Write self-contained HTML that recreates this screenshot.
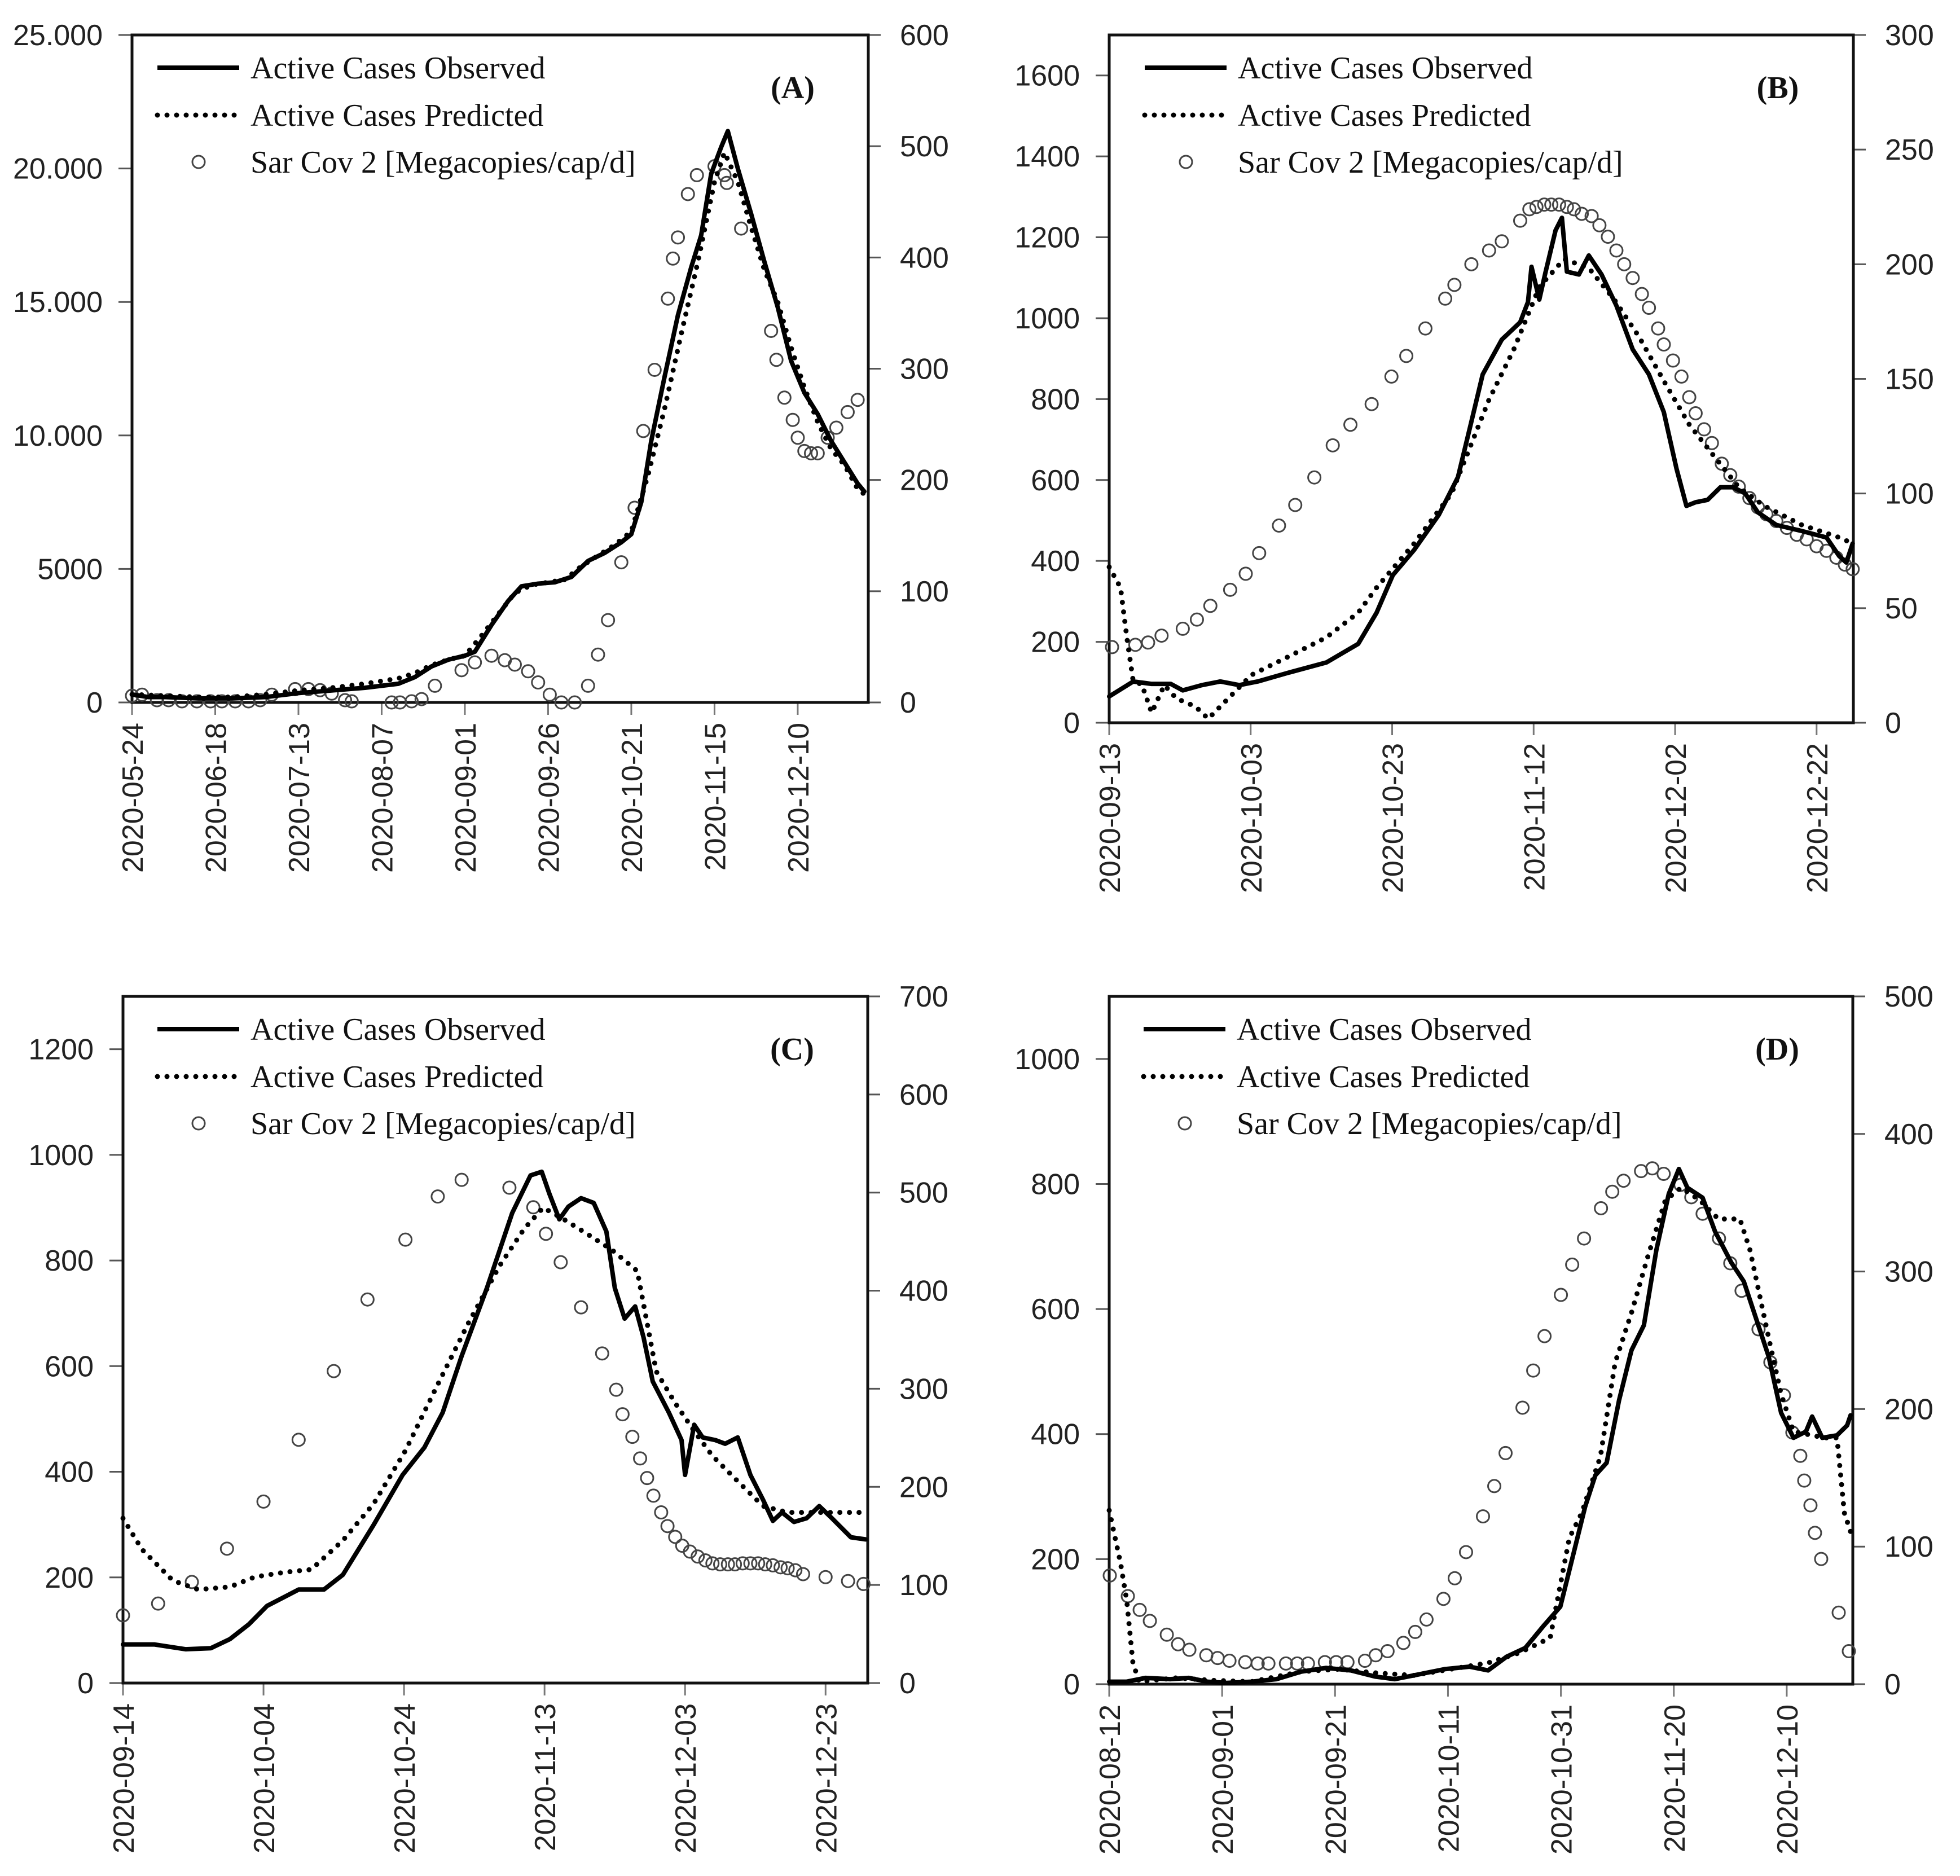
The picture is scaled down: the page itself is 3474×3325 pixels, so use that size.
<!DOCTYPE html>
<html><head><meta charset="utf-8"><style>
html,body{margin:0;padding:0;background:#fff;}
svg{display:block;}
.tick{font-family:"Liberation Sans",sans-serif;font-size:52px;fill:#222;}
.leg{font-family:"Liberation Serif",serif;font-size:56px;fill:#111;}
.lab{font-family:"Liberation Serif",serif;font-size:56px;font-weight:bold;fill:#111;}
</style></head><body>
<svg id="chart" xmlns="http://www.w3.org/2000/svg" width="3474" height="3325" viewBox="0 0 3474 3325"></svg>
<script>
// ---------- Panel A data ----------
const aObsDays=[0,5,10,20,30,40,50,60,70,80,85,90,95,100,103,108,113,117,122,127,132,137,142,147,150,153,156,160,164,168,171,174,177,179,182,186,190,194,198,202,206,210,214,218,220];
const aObsVals=[300,200,200,150,150,200,350,450,550,700,950,1350,1600,1750,1900,2900,3800,4350,4450,4500,4700,5300,5600,6000,6300,7500,9800,12200,14500,16300,17500,19800,20800,21400,20000,18300,16500,14800,12800,11600,10800,9800,9000,8200,7900];
const aPredDays=[0,10,20,30,40,50,60,70,80,85,90,95,100,105,110,115,120,125,130,135,140,145,150,155,160,165,170,175,178,182,186,190,194,198,202,206,210,214,218,220];
const aPredVals=[300,250,200,200,300,450,550,700,900,1100,1400,1600,1750,2500,3300,4100,4400,4500,4600,5100,5500,5900,6400,8500,11000,13800,16500,19500,20600,19500,17800,16200,15000,13300,11800,10500,9500,8900,8000,7800];
const aSarsDays=[0,3,7.5,11,15,19.5,23.6,27,31,35,38.5,42,49,53,56.5,60,64,66,78,80.5,84,87,91,99,103,108,112,115,119,122,125.5,129,133,137,140,143,147,151,153.6,157,161,162.5,164,167,169.7,175,178,178.7,183,192,193.6,196,198.5,200,202,204,206,209,211.6,215,218];
const aSarsVals=[6,7,2,2,1,1,1,1,1,1,2,7,12,12,11,8,2,1,0,0,1,3,15,29,36,42,38,34,28,18,7,0,0,15,43,74,126,175,244,299,363,399,418,457,474,482,474,467,426,334,308,274,254,238,226,224,224,238,247,261,272];
const aLeftTicks=['0','5000','10.000','15.000','20.000','25.000'];
const aRightTicks=['0','100','200','300','400','500','600'];
const aDateLabels=['2020-05-24','2020-06-18','2020-07-13','2020-08-07','2020-09-01','2020-09-26','2020-10-21','2020-11-15','2020-12-10'];

// ---------- Panel B data ----------
const bObsDays=[0,3.4,6,8.7,10.4,13.1,15.7,18.4,21,25.4,30.7,35.2,37.8,40.1,43.1,46.6,49.3,51.1,52.8,55.5,58.1,59.2,59.7,60.8,61.7,63.1,64,64.7,66.4,67.8,69.6,71.7,74,76.3,78.4,80.2,81.6,82.9,84.6,86.4,88.2,89.9,91.7,94.3,97.9,101.4,103.2,104.2,105.1];
const bObsVals=[65,102,96,96,80,93,102,93,102,124,149,195,272,365,427,514,607,737,861,947,990,1040,1127,1046,1115,1217,1248,1115,1108,1155,1108,1031,923,861,768,628,536,545,551,582,582,567,520,489,474,458,412,396,443];
const bPredDays=[0,1.6,2.5,3.4,4.6,6,7.8,9.5,12.2,14,16.6,20.1,25.4,30.7,35.2,37.8,43.1,48.4,53.7,57.2,60.8,64.3,67.8,71.4,74.9,78.4,82,85.5,89,92.6,97.9,103.2,105.1];
const bPredVals=[385,334,210,102,95,25,93,60,40,10,56,118,164,211,272,334,443,567,799,923,1077,1146,1124,1046,954,845,737,659,582,536,489,458,443];
const bSarsDays=[0.4,3.7,5.5,7.4,10.4,12.4,14.3,17.1,19.3,21.2,24,26.3,29,31.6,34.1,37.1,39.9,42,44.7,47.5,48.8,51.2,53.7,55.5,58.1,59.4,60.4,61.5,62.5,63.6,64.7,65.7,66.8,68.2,69.3,70.5,71.7,72.8,74,75.3,76.3,77.6,78.4,79.7,80.9,82,82.9,84.1,85.2,86.6,87.8,89,90.5,91.7,92.9,94.3,95.8,97.2,98.6,100,101.4,102.8,104,105.1];
const bSarsVals=[33,34,35,38,41,45,51,58,65,74,86,95,107,121,130,139,151,160,172,185,191,200,206,210,219,224,225,226,226,226,225,224,222,221,217,212,206,200,194,187,181,172,165,158,151,142,135,128,122,113,108,103,98,94,91,88,85,82,80,77,75,72,69,67];
const bLeftTicks=['0','200','400','600','800','1000','1200','1400','1600'];
const bRightTicks=['0','50','100','150','200','250','300'];
const bDateLabels=['2020-09-13','2020-10-03','2020-10-23','2020-11-12','2020-12-02','2020-12-22'];

// ---------- Panel C data ----------
const cObsDays=[0,4.5,8.9,12.5,15.2,17.9,20.5,25,28.6,31.3,35.7,39.8,42.9,45.5,48.2,51.8,55.4,58,59.6,60.7,62.1,63.4,65.2,67,68.8,70,71.4,72.9,74.1,75.4,77.7,79.5,80,81.3,82.5,84.3,85.7,87.5,89.3,91.1,92.5,93.8,95.5,97.3,99.1,100.9,103.6,105.7];
const cObsVals=[73,73,64,66,83,111,146,177,177,205,300,394,446,512,619,748,890,961,968,926,878,902,918,909,855,748,690,713,654,571,512,460,394,489,465,460,453,465,394,347,307,323,305,312,335,312,276,272];
const cPredDays=[0,2.7,7.1,10.7,15.2,18.8,23.2,26.8,31.3,35.7,40.2,44.6,49.1,53.6,57.1,59.8,62.5,66.1,69.6,73.2,75.9,78.6,81.3,83.9,87.5,91.1,94.6,100,105.7];
const cPredVals=[312,253,194,177,182,201,210,215,270,340,440,560,680,790,860,900,880,850,820,780,590,530,477,430,382,335,323,323,323];
const cSarsDays=[0,5,9.8,14.8,20,25,30,34.8,40.2,44.8,48.2,55,58.4,60.2,62.3,65.2,68.2,70.2,71.1,72.5,73.6,74.6,75.5,76.6,77.5,78.6,79.6,80.7,81.8,82.9,83.9,85,86.1,87.1,88.2,89.3,90.4,91.4,92.5,93.6,94.6,95.7,96.8,100,103.2,105.4];
const cSarsVals=[69,81,103,137,185,248,318,391,452,496,513,505,485,458,429,383,336,299,274,251,229,209,191,174,160,149,140,134,129,125,122,121,121,121,122,122,122,121,120,118,117,115,111,108,104,101];
const cLeftTicks=['0','200','400','600','800','1000','1200'];
const cRightTicks=['0','100','200','300','400','500','600','700'];
const cDateLabels=['2020-09-14','2020-10-04','2020-10-24','2020-11-13','2020-12-03','2020-12-23'];

// ---------- Panel D data ----------
const dObsDays=[0,3.1,6.4,10.8,14.1,17.4,20.8,25.2,29.6,34,38.4,42.8,47.2,50.6,55,59.4,63.8,67.1,70.4,73.7,77,79.9,82.1,84.3,86.1,88.1,90.3,92.5,94.7,96.9,99.1,100.9,102.4,105.1,107.3,110.2,112.4,114.6,116.8,119,121.2,123.4,124.5,126.3,128.9,130.7,131.3];
const dObsVals=[4,4,10,8,10,4,2,4,8,20,26,22,12,8,16,24,28,22,44,58,94,124,204,284,334,354,454,534,574,694,784,824,794,778,724,674,644,584,524,434,394,404,428,394,398,414,430];
const dPredDays=[0,2,3.1,4.2,5.3,11.9,18.5,25.2,34,40.6,47.2,53.9,60.5,67.1,72.6,78.1,81.5,83.7,87,89.6,92.5,95.4,98.5,101.3,104.6,107.9,111.7,113.5,116.8,119,121.2,126.7,128.9,130.2,131.3];
const dPredVals=[278,194,134,34,4,10,6,4,20,24,18,14,24,34,50,74,234,274,364,514,594,684,774,794,774,744,744,694,554,464,404,394,394,274,244];
const dSarsDays=[0.1,3.3,5.4,7.2,10.2,12.2,14.2,17.2,19.2,21.3,24.1,26.3,28.2,31.3,33.3,35.2,38.2,40.2,42.2,45.3,47.2,49.3,52.1,54.2,56.2,59.2,61.2,63.2,66.2,68.2,70.2,73.2,75.1,77.1,80,82,84.1,87.1,89.1,91.1,94.2,96.2,98.2,101.2,103.1,105.1,108,110,112,115,117.1,119.5,121,122.4,123.1,124.2,125,126.1,129.2,131];
const dSarsVals=[79,64,54,46,36,29,25,21,19,17,16,15,15,15,15,15,16,16,16,17,21,24,30,38,47,62,77,96,122,144,168,201,228,253,283,305,324,346,358,366,373,375,371,363,354,342,324,306,286,258,234,210,183,166,148,130,110,91,52,24];
const dLeftTicks=['0','200','400','600','800','1000'];
const dRightTicks=['0','100','200','300','400','500'];
const dDateLabels=['2020-08-12','2020-09-01','2020-09-21','2020-10-11','2020-10-31','2020-11-20','2020-12-10'];

const NS='http://www.w3.org/2000/svg';
const svg=document.getElementById('chart');
function mk(tag,attrs,parent){const e=document.createElementNS(NS,tag);for(const k in attrs)e.setAttribute(k,attrs[k]);(parent||svg).appendChild(e);return e;}

const panels=[
 {key:'a',label:'(A)',L:234,R:1539,T:62,B:1245,xMax:221.2,yMax:25000,yStep:5000,rMax:600,rStep:100,xStep:25,legX:210,
  obsD:aObsDays,obsV:aObsVals,predD:aPredDays,predV:aPredVals,sD:aSarsDays,sV:aSarsVals,lt:aLeftTicks,rt:aRightTicks,dl:aDateLabels},
 {key:'b',label:'(B)',L:1966,R:3285,T:62,B:1281,xMax:105.2,yMax:1700,yStep:200,rMax:300,rStep:50,xStep:20,legX:228,
  obsD:bObsDays,obsV:bObsVals,predD:bPredDays,predV:bPredVals,sD:bSarsDays,sV:bSarsVals,lt:bLeftTicks,rt:bRightTicks,dl:bDateLabels},
 {key:'c',label:'(C)',L:218,R:1538,T:1766,B:2983,xMax:106,yMax:1300,yStep:200,rMax:700,rStep:100,xStep:20,legX:226,
  obsD:cObsDays,obsV:cObsVals,predD:cPredDays,predV:cPredVals,sD:cSarsDays,sV:cSarsVals,lt:cLeftTicks,rt:cRightTicks,dl:cDateLabels},
 {key:'d',label:'(D)',L:1966,R:3284,T:1766,B:2985,xMax:131.7,yMax:1100,yStep:200,rMax:500,rStep:100,xStep:20,legX:226,
  obsD:dObsDays,obsV:dObsVals,predD:dPredDays,predV:dPredVals,sD:dSarsDays,sV:dSarsVals,lt:dLeftTicks,rt:dRightTicks,dl:dDateLabels}
];

panels.forEach(p=>{
  const g=mk('g',{});
  
  
  const xs=d=>p.L+(d/p.xMax)*(p.R-p.L);
  const ys=v=>p.B-(v/p.yMax)*(p.B-p.T);
  const yr=v=>p.B-(v/p.rMax)*(p.B-p.T);
  p.lt.forEach((t,i)=>{
    const y=ys(i*p.yStep);
    const tk=mk('line',{x1:p.L-24,x2:p.L,y1:y,y2:y,stroke:'#555','stroke-width':3},g);
    
    
    const tx=mk('text',{x:p.L-52,y:y+18,'text-anchor':'end',class:'tick'},g);
    tx.textContent=t;
    
    
  });
  p.rt.forEach((t,i)=>{
    const y=yr(i*p.rStep);
    const tk=mk('line',{x1:p.R,x2:p.R+22,y1:y,y2:y,stroke:'#555','stroke-width':3},g);
    
    
    const tx=mk('text',{x:p.R+56,y:y+18,'text-anchor':'start',class:'tick'},g);
    tx.textContent=t;
    
    
  });
  p.dl.forEach((t,i)=>{
    const x=xs(i*p.xStep);
    const tk=mk('line',{x1:x,x2:x,y1:p.B,y2:p.B+22,stroke:'#777','stroke-width':3},g);
    
    
    const tx=mk('text',{x:0,y:0,'text-anchor':'end',class:'tick',transform:`translate(${x+19},${p.B+36}) rotate(-90)`},g);
    tx.textContent=t;
    
    
  });
  const fr=mk('rect',{x:p.L,y:p.T,width:p.R-p.L,height:p.B-p.T,fill:'none',stroke:'#111','stroke-width':5},g);
  
  
  p.sD.forEach((d,i)=>{
    const c=mk('circle',{cx:xs(d),cy:yr(p.sV[i]),r:11,fill:'none',stroke:'#444','stroke-width':3},g);
    
    
  });
  const obs=mk('polyline',{points:p.obsD.map((d,i)=>xs(d)+','+ys(p.obsV[i])).join(' '),fill:'none',stroke:'#000','stroke-width':8,'stroke-linejoin':'round','stroke-linecap':'round'},g);
  
  
  const pr=mk('polyline',{points:p.predD.map((d,i)=>xs(d)+','+ys(p.predV[i])).join(' '),fill:'none',stroke:'#000','stroke-width':9,'stroke-dasharray':'0 17','stroke-linecap':'round','stroke-linejoin':'round'},g);
  
  
  const lg=mk('g',{},g);
  
  
  const lx=p.L+p.legX, ly=[p.T+58,p.T+142,p.T+225];
  const l1=mk('line',{x1:lx-165,x2:lx-20,y1:ly[0],y2:ly[0],stroke:'#000','stroke-width':8},lg);
  
  
  const l2=mk('line',{x1:lx-165,x2:lx-20,y1:ly[1],y2:ly[1],stroke:'#000','stroke-width':9,'stroke-dasharray':'0 17','stroke-linecap':'round'},lg);
  
  
  const l3=mk('circle',{cx:lx-92,cy:ly[2],r:11,fill:'none',stroke:'#444','stroke-width':3},lg);
  
  
  ['Active Cases Observed','Active Cases Predicted','Sar Cov 2 [Megacopies/cap/d]'].forEach((t,i)=>{
    const tx=mk('text',{x:lx,y:ly[i]+19,class:'leg'},lg);
    tx.textContent=t;
    
    
  });
  const pl=mk('text',{x:p.R-134,y:p.T+112,'text-anchor':'middle',class:'lab'},g);
  pl.textContent=p.label;
  
  
});
</script>
</body></html>
